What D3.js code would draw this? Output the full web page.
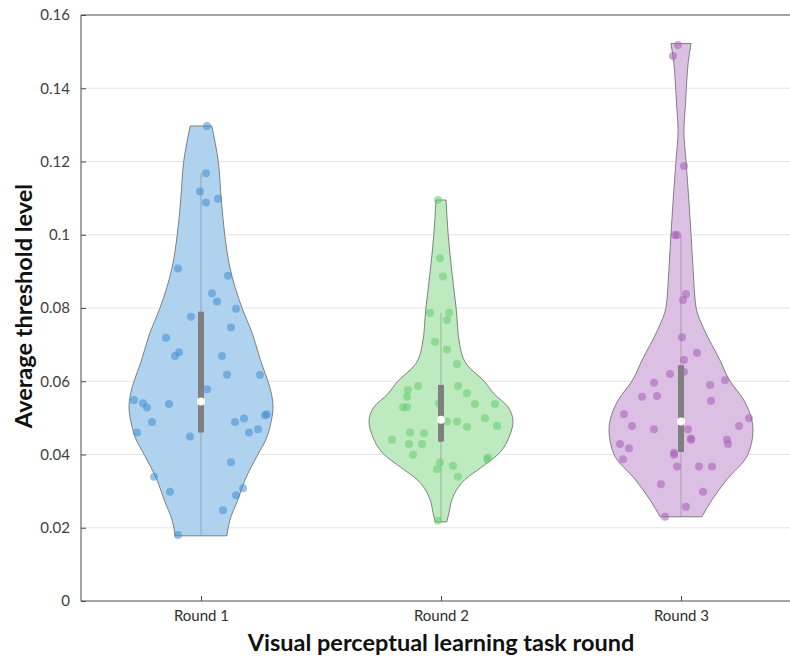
<!DOCTYPE html>
<html><head><meta charset="utf-8">
<script src="https://cdn.jsdelivr.net/npm/d3@7"></script>
<style>
html,body{margin:0;padding:0;background:#fff;}
svg{display:block;}
</style></head>
<body>
<svg id="chart" width="790" height="657"></svg>
<script>
// ---------- data ----------
const categories = ["Round 1", "Round 2", "Round 3"];
const yTicks = [0, 0.02, 0.04, 0.06, 0.08, 0.1, 0.12, 0.14, 0.16];
const yTickLabels = ["0", "0.02", "0.04", "0.06", "0.08", "0.1", "0.12", "0.14", "0.16"];

// observed values per round
const round1Values = [0.1297,0.1168,0.1118,0.1088,0.1098,0.0908,0.0888,0.084,0.0818,0.0798,0.0776,0.0747,0.0719,0.0679,0.0669,0.0669,0.0618,0.0618,0.0578,0.0549,0.054,0.0528,0.0538,0.0489,0.046,0.0449,0.0489,0.0498,0.051,0.0507,0.046,0.0469,0.0379,0.0339,0.0298,0.0308,0.0289,0.0248,0.018];
const round1Jitter = [6,5,-1,5,17,-23,27,11,16,35,-10,30,-35,-22,-26,21,26,59,6,-67,-58,-54,-32,-49,-64,-11,34,43,66,64,48,57,30,-47,-31,42,35,22,-23];
const round2Values = [0.1095,0.0936,0.0886,0.0787,0.0787,0.0767,0.0708,0.0687,0.0647,0.0576,0.0558,0.0587,0.0587,0.0567,0.0538,0.0538,0.0529,0.0529,0.054,0.049,0.049,0.0476,0.0499,0.0478,0.046,0.0458,0.044,0.0429,0.0429,0.0399,0.0392,0.0387,0.0378,0.036,0.0369,0.0339,0.0219];
const round2Jitter = [-3,-1,2,-11,8,6,-6,6,16,-33,-34,-23,17,26,34,54,-38,-34,-2,6,16,26,44,56,-31,-17,-49,-32,-19,-28,47,46,-1,-4,12,17,-3];
const round3Values = [0.1518,0.1488,0.1188,0.0999,0.0999,0.0838,0.0822,0.072,0.0678,0.0658,0.062,0.0626,0.0603,0.0596,0.059,0.0558,0.056,0.0547,0.051,0.0478,0.0469,0.0469,0.0444,0.044,0.0478,0.0499,0.044,0.0429,0.0429,0.0417,0.0387,0.0399,0.0405,0.0367,0.0367,0.0367,0.0319,0.0298,0.0257,0.023];
const round3Jitter = [-3,-8,3,-4,-6,5,2,1,16,3,-11,3,44,-27,29,-39,-24,30,-57,-49,-27,7,10,10,58,68,46,47,-61,-52,-58,-7,-7,-4,18,31,-20,22,5,-16];

// kernel density profiles (value, relative density)
const round1DensityAt = [0.0178,0.022,0.0275,0.033,0.04,0.044,0.0486,0.053,0.0573,0.06,0.0655,0.0732,0.08,0.0912,0.1,0.11,0.12,0.1297];
const round1Density   = [0.36,0.40,0.51,0.61,0.79,0.90,0.97,1.0,0.97,0.93,0.83,0.71,0.57,0.40,0.33,0.28,0.24,0.15];
const round2DensityAt = [0.0216,0.024,0.0276,0.0331,0.0365,0.04,0.0455,0.049,0.053,0.0565,0.06,0.0645,0.07,0.08,0.09,0.1,0.1095];
const round2Density   = [0.08,0.11,0.15,0.33,0.56,0.79,0.96,1.0,0.93,0.74,0.60,0.36,0.26,0.21,0.15,0.10,0.07];
const round3DensityAt = [0.023,0.0276,0.033,0.04,0.0467,0.0546,0.0604,0.0658,0.0742,0.08,0.09,0.1,0.1092,0.1201,0.1286,0.135,0.142,0.147,0.1522];
const round3Density   = [0.29,0.43,0.63,0.93,1.0,0.88,0.67,0.54,0.32,0.21,0.17,0.14,0.11,0.07,0.04,0.06,0.08,0.10,0.14];

// box statistics
const medians = [0.0545, 0.0495, 0.049];
const q1 = [0.046, 0.0435, 0.0407];
const q3 = [0.079, 0.059, 0.0644];
const whiskerLow = [0.018, 0.0219, 0.023];
const whiskerHigh = [0.1168, 0.0787, 0.0999];

// ---------- styles ----------
const fillColors = ["#afd2ee", "#bdeabf", "#dcc0e3"];
const pointColors = ["rgba(62,142,210,0.55)", "rgba(100,204,112,0.55)", "rgba(166,92,184,0.55)"];
const font = "Lato, 'Open Sans', sans-serif";

const svg = d3.select("#chart");

const x = d3.scaleLinear().domain([0.5, 3.5]).range([81, 801]);
const y = d3.scaleLinear().domain([0, 0.16]).range([601, 15]);
const pxPerUnit = x(1) - x(0);
const maxHalf = 0.3; // category units

// grid
svg.append("g").selectAll("line").data(yTicks.filter(t => t > 0 && t < 0.16)).join("line")
  .attr("x1", x(0.5)).attr("x2", x(3.5))
  .attr("y1", d => y(d)).attr("y2", d => y(d))
  .attr("stroke", "#e4e4e4").attr("stroke-width", 1);

const groups = [
  {vals: round1Values, jit: round1Jitter, at: round1DensityAt, dens: round1Density},
  {vals: round2Values, jit: round2Jitter, at: round2DensityAt, dens: round2Density},
  {vals: round3Values, jit: round3Jitter, at: round3DensityAt, dens: round3Density}
];

groups.forEach((g, i) => {
  const c = i + 1;
  const prof = g.at.map((v, k) => ({v, d: g.dens[k]}));
  const area = d3.area()
    .y(d => y(d.v))
    .x0(d => x(c - maxHalf * d.d))
    .x1(d => x(c + maxHalf * d.d))
    .curve(d3.curveMonotoneY);
  svg.append("path").attr("d", area(prof))
    .attr("fill", fillColors[i]).attr("stroke", "#666").attr("stroke-width", 0.8);

  // whisker
  svg.append("line")
    .attr("x1", x(c)).attr("x2", x(c))
    .attr("y1", y(whiskerLow[i])).attr("y2", y(whiskerHigh[i]))
    .attr("stroke", "rgba(110,110,110,0.45)").attr("stroke-width", 1);

  // points
  svg.append("g").selectAll("circle").data(g.vals.map((v, k) => ({v, j: g.jit[k]}))).join("circle")
    .attr("cx", d => x(c + d.j / pxPerUnit))
    .attr("cy", d => y(d.v))
    .attr("r", 4)
    .attr("fill", pointColors[i]);

  // box
  svg.append("line")
    .attr("x1", x(c)).attr("x2", x(c))
    .attr("y1", y(q1[i])).attr("y2", y(q3[i]))
    .attr("stroke", "#7f7f7f").attr("stroke-width", 6);
  svg.append("circle")
    .attr("cx", x(c)).attr("cy", y(medians[i])).attr("r", 4)
    .attr("fill", "#fff");
});

// axes frame
const axisColor = "#4a4a4a";
svg.append("line").attr("x1", x(0.5)).attr("x2", x(0.5)).attr("y1", y(0)).attr("y2", y(0.16))
  .attr("stroke", axisColor).attr("stroke-width", 1);
svg.append("line").attr("x1", x(0.5)).attr("x2", x(3.5)).attr("y1", y(0)).attr("y2", y(0))
  .attr("stroke", axisColor).attr("stroke-width", 1);
svg.append("line").attr("x1", x(0.5)).attr("x2", x(3.5)).attr("y1", y(0.16)).attr("y2", y(0.16))
  .attr("stroke", axisColor).attr("stroke-width", 1);

// y axis
const yAxis = d3.axisLeft(y).tickValues(yTicks).tickFormat((d, k) => yTickLabels[k]).tickSizeInner(-5).tickSizeOuter(0).tickPadding(11);
const ya = svg.append("g").attr("transform", `translate(${x(0.5)},0)`).call(yAxis);
ya.select(".domain").remove();
ya.selectAll("line").attr("stroke", axisColor);
ya.selectAll("text").attr("font-family", font).attr("font-size", 15).attr("fill", "#404040");

// x axis
const xAxis = d3.axisBottom(x).tickValues([1, 2, 3]).tickFormat((d) => categories[d - 1]).tickSizeInner(-5).tickSizeOuter(0).tickPadding(9);
const xa = svg.append("g").attr("transform", `translate(0,${y(0)})`).call(xAxis);
xa.select(".domain").remove();
xa.selectAll("line").attr("stroke", axisColor);
xa.selectAll("text").attr("font-family", font).attr("font-size", 15).attr("fill", "#303030");

// titles
svg.append("text").attr("x", 441).attr("y", 651).attr("text-anchor", "middle")
  .attr("font-family", font).attr("font-weight", "bold").attr("font-size", 23.5).attr("fill", "#111")
  .text("Visual perceptual learning task round");
svg.append("text").attr("transform", "translate(32,306) rotate(-90)").attr("text-anchor", "middle")
  .attr("font-family", font).attr("font-weight", "bold").attr("font-size", 23.5).attr("fill", "#111")
  .text("Average threshold level");
</script>
</body></html>
